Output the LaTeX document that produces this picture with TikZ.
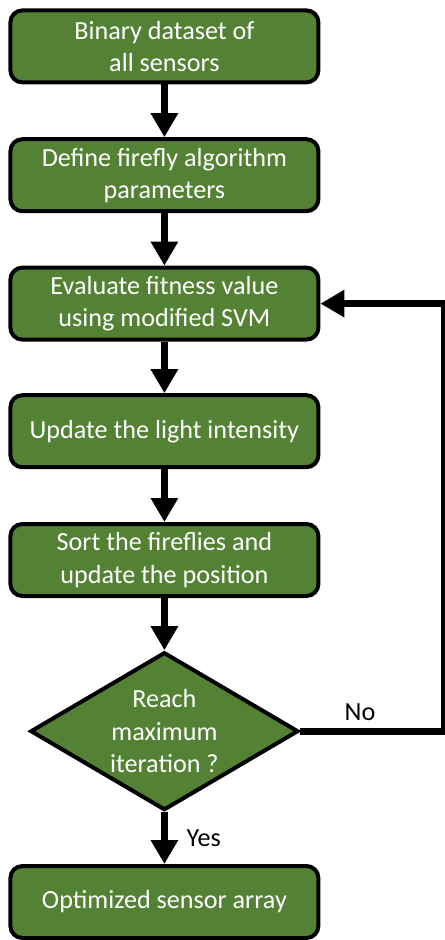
\documentclass[tikz,border=0pt]{standalone}
\usepackage{fontspec}
\setmainfont{Carlito}
\usetikzlibrary{shapes.geometric,arrows.meta}
\definecolor{leafgreen}{HTML}{548235}

\begin{document}
\begin{tikzpicture}[
        procbox/.style={draw=black, line width=0.1cm, fill=leafgreen, rounded corners=0.3cm,
                        minimum width=7.7cm, minimum height=1.8cm, align=center,
                        text=white, font=\fontsize{18.6}{23}\selectfont},
        decision/.style={diamond, draw=black, line width=0.1cm, fill=leafgreen, aspect=1.685,
                         minimum width=6.7cm, minimum height=3.95cm, inner sep=0pt, align=center,
                         text=white, font=\fontsize{18.6}{23}\selectfont},
        flowarrow/.style={line width=0.18cm, -{Triangle[width=0.65cm,length=0.6cm]}},
        lbl/.style={font=\fontsize{18.6}{23}\selectfont}
    ]
        \useasboundingbox (0,0) rectangle (11.1,-23.5);

        \node[procbox] (data) at (4.11,-1.16) {Binary dataset of\\all sensors};
        \node[procbox] (params) at (4.11,-4.38) {Define firefly algorithm\\parameters};
        \node[procbox] (fitness) at (4.11,-7.59) {Evaluate fitness value\\using modified SVM};
        \node[procbox] (light) at (4.11,-10.78) {Update the light intensity};
        \node[procbox] (sort) at (4.11,-14.0) {Sort the fireflies and\\update the position};
        \node[decision] (reach) at (4.11,-18.28) {Reach\\maximum\\iteration ?};
        \node[procbox] (result) at (4.11,-22.55) {Optimized sensor array};

        % main flow
        \draw[flowarrow] (data) -- (params);
        \draw[flowarrow] (params) -- (fitness);
        \draw[flowarrow] (fitness) -- (light);
        \draw[flowarrow] (light) -- (sort);
        \draw[flowarrow] (sort) -- (reach);
        \draw[flowarrow] (reach) -- node[lbl, right=0.35cm] (yes) {Yes} (result);

        % loop back when not finished
        \coordinate (corner) at (11.12,-18.28);
        \draw[flowarrow] (reach.east) -- (corner) -- (corner |- fitness.east) -- (fitness.east);
        \node[lbl] (no) at (9.0,-17.8) {No};

    \end{tikzpicture}
\end{document}
